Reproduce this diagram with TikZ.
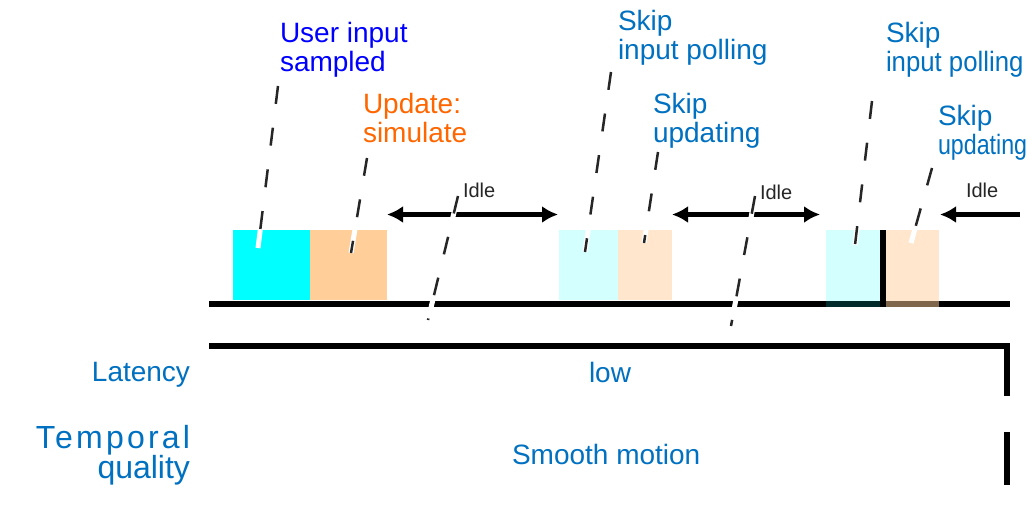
\documentclass[tikz,border=0pt]{standalone}
\usepackage{fontspec}
\setmainfont{Liberation Sans}
\usetikzlibrary{arrows.meta,calc}
\definecolor{lblue}{RGB}{0,112,192}
\definecolor{ublue}{RGB}{0,0,255}
\definecolor{uorange}{RGB}{255,102,0}
\definecolor{boxorange}{RGB}{255,206,153}
\definecolor{boxcyan}{RGB}{0,255,255}
\begin{document}
\begin{tikzpicture}[x=1pt,y=-1pt,
  lbl/.style={inner sep=0pt, outer sep=0pt, anchor=north west, align=left,
              font=\fontsize{28}{29}\selectfont},
  rlbl/.style={lbl, anchor=north east, align=right},
  smalllbl/.style={lbl, font=\fontsize{20}{20}\selectfont, text=black!85},
  stagebox/.style={draw=none, inner sep=0pt, outer sep=0pt, anchor=north west,
                   minimum height=70pt},
  fadebox/.style={stagebox, fill opacity=0.5},
  thickline/.style={line width=6pt, draw=black},
  dimarrow/.style={line width=5pt, draw=black,
                   {Latex[length=16pt,width=17pt]}-{Latex[length=16pt,width=17pt]}},
  halfarrow/.style={line width=5pt, draw=black, {Latex[length=16pt,width=17pt]}-},
  leader/.style={draw=black!85, line width=2.5pt, dash pattern=on 18pt off 24pt,
                 preaction={draw=white, line width=5pt, solid}}
]
\useasboundingbox (0,0) rectangle (1030,506);

% frame 1 and frame 2 stages
\node[stagebox, fill=boxcyan, minimum width=77pt] (c1) at (233,230) {};
\node[stagebox, fill=boxorange, minimum width=77pt] (o1) at (310,230) {};
\node[stagebox, fill=boxcyan, fill opacity=0.17, minimum width=59pt] (c2) at (559,230) {};
\node[fadebox, fill=boxorange, minimum width=54pt] (o2) at (618,230) {};

% timeline
\coordinate (t0) at (209,304);
\coordinate (t1) at (1010,304);
\draw[thickline] (t0) -- (t1);

% frame 3 stages (over the timeline)
\node[stagebox, fill=boxcyan, fill opacity=0.17, minimum width=54pt, minimum height=77pt] (c3) at (826,230) {};
\node[fadebox, fill=boxorange, minimum width=53pt, minimum height=77pt] (o3) at (886,230) {};
\coordinate (b0) at (883,230);
\coordinate (b1) at (883,307);
\draw[thickline] (b0) -- (b1);

% row separator
\coordinate (r0) at (209,346);
\coordinate (r1) at (1010,346);
\coordinate (r1t) at (1007,343);
\coordinate (r2) at (1007,506);
\draw[thickline] (r0) -- (r1);
\draw[thickline, dash pattern=on 53pt off 36pt] (r1t) -- (r2);

% idle arrows
\coordinate (a1s) at (387,214.5);
\coordinate (a1e) at (558,214.5);
\coordinate (a2s) at (672,214.5);
\coordinate (a2e) at (820,214.5);
\coordinate (a3s) at (940,214.5);
\coordinate (a3e) at (1020,214.5);
\draw[dimarrow] (a1s) -- (a1e);
\draw[dimarrow] (a2s) -- (a2e);
\draw[halfarrow] (a3s) -- (a3e);

% labels
\node[lbl, text=ublue] (ui) at (280,22) {User input\\sampled};
\node[lbl, text=uorange] (up) at (363,93) {Update:\\simulate};
\node[lbl, text=lblue] (s1) at (618,10) {Skip\\input polling};
\node[lbl, text=lblue] (s2) at (653,93) {Skip\\updating};
\node[lbl, text=lblue] (s3) at (886,22) {Skip\\\scalebox{0.92}[1]{input polling}};
\node[lbl, text=lblue] (s4) at (938,105) {Skip\\\scalebox{0.83}[1]{updating}};

\node[smalllbl] (i1) at (463,183) {Idle};
\node[smalllbl] (i2) at (760,185) {Idle};
\node[smalllbl] (i3) at (966,183) {Idle};

\node[rlbl, text=lblue] (lat) at (190,362) {Latency};
\node[rlbl, text=lblue, font=\fontsize{32}{30}\selectfont] (tq) at (190,425)
  {{\addfontfeature{LetterSpace=10}Temporal}\\quality};
\node[lbl, text=lblue] (low) at (589,362) {low};
\node[lbl, text=lblue] (sm) at (512,444) {Smooth motion};

% leader lines
\coordinate (l1a) at (278,86);  \coordinate (l1b) at (258,248);
\coordinate (l2a) at (367,158); \coordinate (l2b) at (351,253);
\coordinate (l3a) at (611,72);  \coordinate (l3b) at (585,252);
\coordinate (l4a) at (658,152); \coordinate (l4b) at (644,243);
\coordinate (l5a) at (872,101); \coordinate (l5b) at (855,245);
\coordinate (l6a) at (932,168); \coordinate (l6b) at (911,243);
\coordinate (l7a) at (458,196); \coordinate (l7b) at (428,320);
\coordinate (l8a) at (755,196); \coordinate (l8b) at (731,326);
\draw[leader] (l1a) -- (l1b);
\draw[leader] (l2a) -- (l2b);
\draw[leader] (l3a) -- (l3b);
\draw[leader] (l4a) -- (l4b);
\draw[leader] (l5a) -- (l5b);
\draw[leader] (l6a) -- (l6b);
\draw[leader] (l7a) -- (l7b);
\draw[leader] (l8a) -- (l8b);
\end{tikzpicture}
\end{document}
